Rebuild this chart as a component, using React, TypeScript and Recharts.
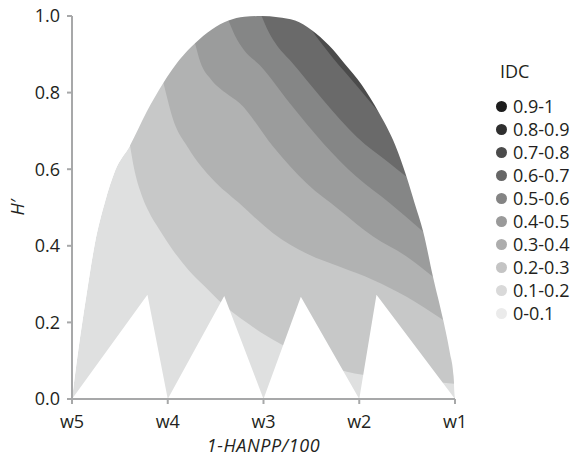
import { ComposedChart, Area, XAxis, YAxis } from 'recharts';

const xTicks = [0, 1, 2, 3, 4];
const xTickLabels = ['w5', 'w4', 'w3', 'w2', 'w1'];
const yTicks = [0, 0.2, 0.4, 0.6, 0.8, 1.0];

// outer edge of the IDC surface, [x, H']
const envelope: [number, number][] = [
  [0, 0], [0.066, 0.128], [0.154, 0.276], [0.24, 0.407], [0.345, 0.515], [0.449, 0.595],
  [0.606, 0.662], [0.78, 0.75], [0.955, 0.826], [1.12, 0.885], [1.285, 0.929], [1.46, 0.965],
  [1.634, 0.988], [1.8, 0.998], [1.98, 1.0], [2.15, 0.997], [2.33, 0.988], [2.505, 0.963],
  [2.68, 0.924], [2.85, 0.875], [3.027, 0.82], [3.2, 0.75], [3.375, 0.663], [3.494, 0.58],
  [3.58, 0.51], [3.668, 0.437], [3.77, 0.319], [3.877, 0.206], [3.947, 0.12], [3.985, 0.06], [4, 0],
];

// empty notches along the bottom
const notches: [number, number][] = [
  [0, 0], [0.788, 0.272], [1, 0], [1.59, 0.269], [2, 0], [2.39, 0.267], [3, 0], [3.18, 0.272], [4, 0],
];

// contour lines between IDC classes
const idc02: [number, number][] = [
  [0.606, 0.662], [0.65, 0.6], [0.71, 0.545], [0.8, 0.49], [0.91, 0.443], [1.05, 0.39],
  [1.216, 0.337], [1.39, 0.293], [1.53, 0.258], [1.67, 0.228], [1.85, 0.195], [2.03, 0.165],
  [2.17, 0.145], [2.5, 0.105], [2.87, 0.071], [3.2, 0.058], [3.6, 0.048], [3.99, 0.04],
];
const idc03: [number, number][] = [
  [0.955, 0.826], [1.0, 0.78], [1.042, 0.741], [1.216, 0.655], [1.46, 0.576], [1.739, 0.513],
  [2.1, 0.433], [2.45, 0.38], [2.797, 0.345], [3.145, 0.311], [3.494, 0.267], [3.877, 0.206],
];
const idc04: [number, number][] = [
  [1.285, 0.929], [1.34, 0.88], [1.45, 0.835], [1.6, 0.8], [1.752, 0.772], [2.1, 0.659],
  [2.45, 0.563], [2.797, 0.493], [3.145, 0.424], [3.494, 0.372], [3.77, 0.319],
];
const idc05: [number, number][] = [
  [1.634, 0.988], [1.7, 0.95], [1.8, 0.91], [1.96, 0.872], [2.275, 0.772], [2.623, 0.668],
  [2.972, 0.58], [3.32, 0.511], [3.668, 0.437],
];
const idc06: [number, number][] = [
  [1.98, 1.0], [2.05, 0.96], [2.15, 0.92], [2.275, 0.885], [2.623, 0.781], [2.972, 0.685],
  [3.32, 0.615], [3.494, 0.58],
];
const idc07: [number, number][] = [
  [2.505, 0.963], [2.6, 0.93], [2.727, 0.89], [2.853, 0.853], [3.0, 0.81], [3.2, 0.75],
];

const contours = [idc02, idc03, idc04, idc05, idc06, idc07];
// fills: 0.1-0.2 (base) then one per contour
const bandColors = ['#dfe0e0', '#c7c8c8', '#b1b2b2', '#9b9c9c', '#858686', '#6a6a6a', '#4b4b4b'];

const legendLabels = ['0.9-1', '0.8-0.9', '0.7-0.8', '0.6-0.7', '0.5-0.6', '0.4-0.5', '0.3-0.4', '0.2-0.3', '0.1-0.2', '0-0.1'];
const legendColors = ['#1d1d1d', '#2f2f2f', '#4b4b4b', '#666666', '#848484', '#9a9a9a', '#adadad', '#c4c4c4', '#d9d9d9', '#ebebeb'];

const axisColor = '#a7a8a9';
const textColor = '#231f20';
const font = '"Open Sans", sans-serif';

const range = (pts: [number, number][], low?: number, high?: number) =>
  pts.map(([x, y]) => ({ x, v: [low ?? y, high ?? y] }));

function IdcLegend() {
  return (
    <div
      style={{
        position: 'absolute',
        left: 496,
        top: 60,
        fontFamily: font,
        fontSize: 18,
        color: textColor,
        lineHeight: '23px',
      }}
    >
      <div style={{ paddingLeft: 4, marginBottom: 12 }}>IDC</div>
      {legendLabels.map((label, i) => (
        <div key={label} style={{ display: 'flex', alignItems: 'center' }}>
          <span
            style={{
              width: 11,
              height: 11,
              borderRadius: '50%',
              background: legendColors[i],
              marginRight: 6,
            }}
          />
          {label}
        </div>
      ))}
    </div>
  );
}

export default function App() {
  return (
    <div style={{ margin: -8, width: 582, height: 465, background: '#fff', position: 'relative' }}>
      <ComposedChart width={582} height={465} margin={{ top: 16, right: 127, bottom: 0, left: 0 }}>
        <XAxis
          type="number"
          dataKey="x"
          domain={[0, 4]}
          ticks={xTicks}
          tickFormatter={(v: number) => xTickLabels[v]}
          height={66}
          stroke={axisColor}
          axisLine={{ stroke: axisColor, strokeWidth: 2 }}
          tickLine={{ stroke: axisColor, strokeWidth: 2 }}
          tickSize={5}
          tickMargin={11}
          tick={{ fill: textColor, fontSize: 18, fontFamily: font }}
          label={{
            value: '1-HANPP/100',
            position: 'insideBottom',
            offset: 13,
            style: { fill: textColor, fontSize: 18, fontFamily: font, fontStyle: 'italic', letterSpacing: 0.6 },
          }}
        />
        <YAxis
          type="number"
          domain={[0, 1]}
          ticks={yTicks}
          width={72}
          stroke={axisColor}
          axisLine={{ stroke: axisColor, strokeWidth: 2 }}
          tickLine={{ stroke: axisColor, strokeWidth: 2 }}
          tickSize={5}
          tickMargin={7}
          tickFormatter={(v: number) => v.toFixed(1)}
          tick={{ fill: textColor, fontSize: 18, fontFamily: font }}
          label={{
            value: 'H′',
            angle: -90,
            position: 'insideLeft',
            offset: 18,
            style: { fill: textColor, fontSize: 18, fontFamily: font, fontStyle: 'italic', textAnchor: 'middle' },
          }}
        />
        <Area
          data={range(envelope, 0)}
          dataKey="v"
          type="monotone"
          fill={bandColors[0]}
          fillOpacity={1}
          stroke="none"
          isAnimationActive={false}
        />
        {contours.map((line, i) => (
          <Area
            key={i}
            data={range(line, undefined, 1)}
            dataKey="v"
            type="monotone"
            fill={bandColors[i + 1]}
            fillOpacity={1}
            stroke="none"
            isAnimationActive={false}
          />
        ))}
        {/* blank out everything outside the surface */}
        <Area
          data={range(envelope, undefined, 1)}
          dataKey="v"
          type="monotone"
          fill="#ffffff"
          fillOpacity={1}
          stroke="none"
          isAnimationActive={false}
        />
        <Area
          data={range(notches, 0)}
          dataKey="v"
          type="linear"
          fill="#ffffff"
          fillOpacity={1}
          stroke="none"
          isAnimationActive={false}
        />
      </ComposedChart>
      <IdcLegend />
    </div>
  );
}
